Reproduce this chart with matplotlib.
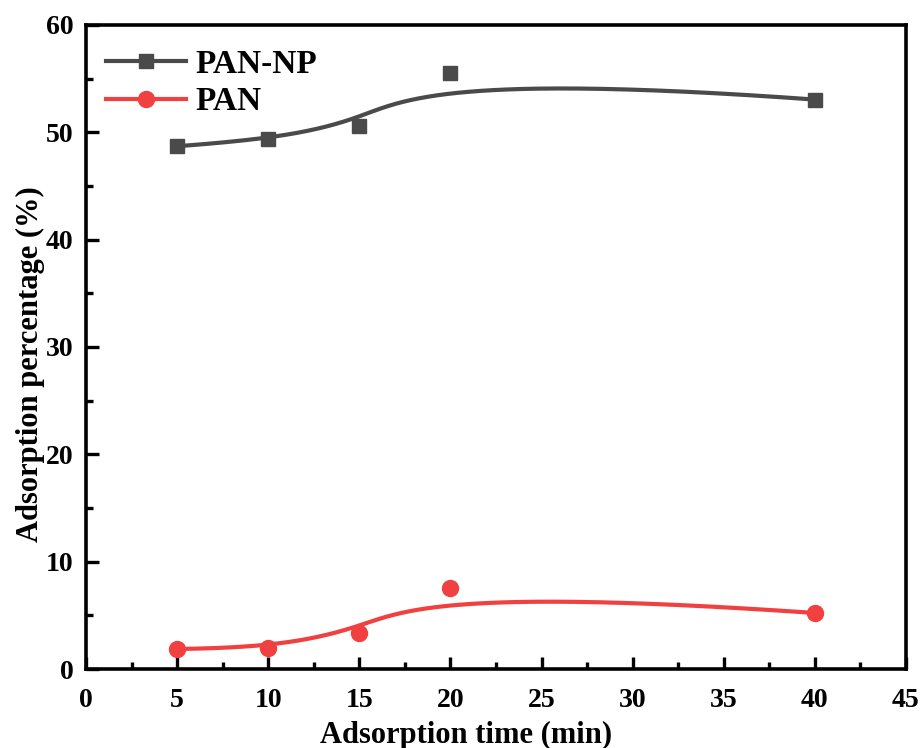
import numpy as np
import matplotlib
matplotlib.use("Agg")
import matplotlib.pyplot as plt
from matplotlib.ticker import MultipleLocator

# Adsorption data
time_min = [5, 10, 15, 20, 40]
pan_np = [48.7, 49.35, 50.56, 55.5, 53.05]
pan = [1.87, 1.96, 3.36, 7.56, 5.22]

x_ticks = [0, 5, 10, 15, 20, 25, 30, 35, 40, 45]
y_ticks = [0, 10, 20, 30, 40, 50, 60]


def bspline(xs, ys, degree=3, n=400):
    """Clamped B-spline with the data points as control points."""
    pts = np.column_stack([xs, ys]).astype(float)
    m = len(pts)
    k = min(degree, m - 1)
    inner = np.linspace(0, 1, m - k + 1)
    knots = np.concatenate([[0] * k, inner, [1] * k])
    t = np.linspace(0, 1, n)
    t[-1] = 1 - 1e-12

    def basis(i, p, u):
        if p == 0:
            return ((knots[i] <= u) & (u < knots[i + 1])).astype(float)
        a = 0.0
        d1 = knots[i + p] - knots[i]
        if d1 > 0:
            a = (u - knots[i]) / d1 * basis(i, p - 1, u)
        b = 0.0
        d2 = knots[i + p + 1] - knots[i + 1]
        if d2 > 0:
            b = (knots[i + p + 1] - u) / d2 * basis(i + 1, p - 1, u)
        return a + b

    curve = np.zeros((n, 2))
    for i in range(m):
        curve += basis(i, k, t)[:, None] * pts[i]
    return curve[:, 0], curve[:, 1]


plt.rcParams['font.family'] = ['Liberation Serif', 'DejaVu Serif']
plt.rcParams['font.weight'] = 'bold'

fig = plt.figure(figsize=(9.24, 7.48), dpi=100)
ax = fig.add_axes([0.0931, 0.1056, 0.8874, 0.861])

gray = '#4a4a4a'
red = '#f04040'
lw = 3.0

cx, cy = bspline(time_min, pan_np)
ax.plot(cx, cy, color=gray, lw=lw, zorder=2)
ax.plot(time_min, pan_np, ls='none', marker='s', ms=10.5, color=gray, zorder=3)

cx, cy = bspline(time_min, pan)
ax.plot(cx, cy, color=red, lw=lw, zorder=2)
ax.plot(time_min, pan, ls='none', marker='o', ms=11.5, color=red, zorder=3)

# legend proxies: line with marker in the middle
h1, = ax.plot([], [], color=gray, lw=lw, marker='s', ms=10.5)
h2, = ax.plot([], [], color=red, lw=lw, marker='o', ms=11.5)
ax.legend([h1, h2], ['PAN-NP', 'PAN'], loc='upper left', frameon=False,
          handlelength=2.4, handletextpad=0.3, labelspacing=0.2,
          borderaxespad=0.0, borderpad=0.4,
          prop={'family': 'Liberation Serif', 'weight': 'bold', 'size': 24},
          bbox_to_anchor=(0.0075, 0.984))

ax.set_xlim(0, 45)
ax.set_ylim(0, 60)
ax.set_xticks(x_ticks)
ax.set_yticks(y_ticks)
ax.xaxis.set_minor_locator(MultipleLocator(2.5))
ax.yaxis.set_minor_locator(MultipleLocator(5))
ax.tick_params(which='both', direction='in', width=2.4, labelsize=20)
ax.tick_params(which='major', length=9)
ax.tick_params(which='minor', length=5)
ax.tick_params(axis='x', pad=14)
ax.tick_params(axis='y', pad=9)
for lab in ax.get_xticklabels() + ax.get_yticklabels():
    lab.set_fontweight('bold')
for s in ax.spines.values():
    s.set_linewidth(2.6)

ax.set_xlabel('Adsorption time (min)', fontsize=22, fontweight='bold')
ax.set_ylabel('Adsorption percentage (%)', fontsize=22, fontweight='bold')
ax.xaxis.set_label_coords(0.463, -0.08)
ax.yaxis.set_label_coords(-0.05, 0.473)

fig.savefig('out.png', dpi=100)
